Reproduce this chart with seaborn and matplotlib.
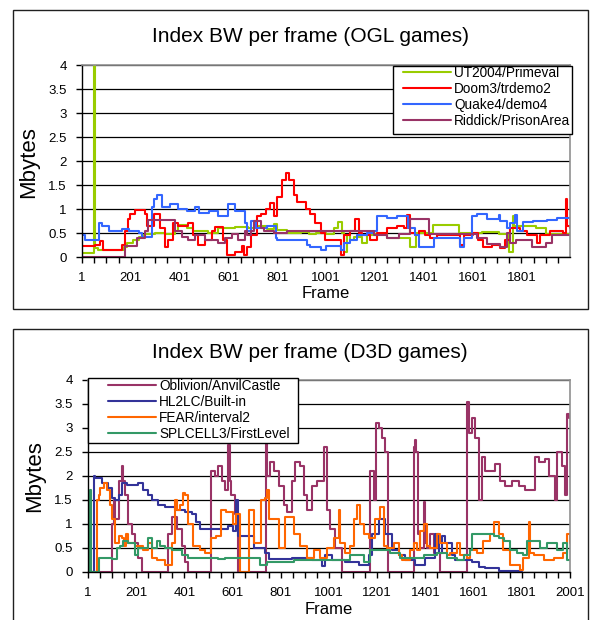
import numpy as np
import pandas as pd
import matplotlib
matplotlib.use("Agg")
import matplotlib.pyplot as plt
import seaborn as sns
from matplotlib.patches import Rectangle
from matplotlib.lines import Line2D

sns.set_theme(style="white")
plt.rcParams["font.family"] = ["Liberation Sans", "DejaVu Sans"]
plt.rcParams["text.color"] = "black"
plt.rcParams["xtick.color"] = "black"
plt.rcParams["ytick.color"] = "black"
plt.rcParams["axes.labelcolor"] = "black"

# ---------------- data (step breakpoints) ----------------
ogl_names = ["UT2004/Primeval", "Doom3/trdemo2", "Quake4/demo4", "Riddick/PrisonArea"]
ogl_colors = ["#99CC00", "#FF0000", "#3366FF", "#993366"]

ut_frames = [1, 51, 53, 68, 171, 185, 210, 235, 250, 260, 300, 340, 382, 396, 430, 457, 519, 559, 628, 682,
             720, 760, 787, 800, 842, 900, 930, 960, 1000, 1032, 1050, 1065, 1073, 1087, 1100, 1114, 1150,
             1170, 1196, 1250, 1301, 1346, 1370, 1437, 1546, 1640, 1710, 1750, 1768, 1772, 1860, 1900, 2000]
ut_vals = [0.09, 4.0, 0.19, 0.15, 0.2, 0.3, 0.35, 0.42, 0.45, 0.48, 0.5, 0.47, 0.55, 0.66, 0.6, 0.55, 0.5, 0.6, 0.62, 0.6,
           0.65, 0.58, 0.68, 0.56, 0.5, 0.52, 0.47, 0.5, 0.48, 0.6, 0.72, 0.5, 0.1, 0.45, 0.35, 0.42, 0.3,
           0.45, 0.48, 0.4, 0.4, 0.2, 0.5, 0.67, 0.5, 0.52, 0.48, 0.1, 0.85, 0.65, 0.6, 0.48, 0.5]

doom_frames = [1, 55, 75, 89, 164, 178, 191, 198, 218, 260, 269, 295, 321, 341, 355, 375, 396, 437, 457, 478,
               505, 532, 546, 580, 594, 628, 655, 665, 678, 692, 719, 733, 753, 770, 787, 801, 821, 835, 848,
               869, 883, 917, 937, 957, 978, 998, 1060, 1073, 1100, 1121, 1134, 1148, 1182, 1209, 1250, 1291,
               1320, 1332, 1346, 1366, 1380, 1407, 1427, 1455, 1550, 1564, 1604, 1625, 1645, 1679, 1713, 1734,
               1755, 1796, 1823, 1864, 1877, 1918, 1972, 1982, 1986, 2000]
doom_vals = [0.22, 0.25, 0.33, 0.15, 0.25, 0.55, 0.8, 0.9, 0.98, 0.9, 0.65, 0.9, 0.6, 0.2, 0.35, 0.7, 0.65, 0.7, 0.45, 0.25,
             0.35, 0.55, 0.62, 0.35, 0.05, 0.1, 0.22, 0.05, 0.2, 0.45, 0.85, 0.9, 1.0, 1.12, 0.85, 1.25, 1.6, 1.75, 1.6,
             1.3, 1.15, 1.0, 0.9, 0.7, 0.5, 0.35, 0.05, 0.45, 0.55, 0.8, 0.5, 0.45, 0.35, 0.5, 0.6, 0.65,
             0.6, 0.87, 0.5, 0.45, 0.55, 0.45, 0.4, 0.45, 0.25, 0.45, 0.5, 0.35, 0.2, 0.25, 0.18, 0.35,
             0.6, 0.55, 0.45, 0.3, 0.45, 0.55, 0.5, 1.2, 0.65, 0.6]

quake_frames = [1, 15, 69, 83, 110, 164, 192, 233, 246, 287, 294, 310, 328, 360, 396, 430, 464, 480, 520, 559,
                600, 628, 668, 678, 692, 712, 760, 794, 801, 923, 937, 978, 1000, 1060, 1073, 1100, 1128, 1168,
                1196, 1209, 1250, 1290, 1336, 1366, 1380, 1441, 1550, 1564, 1598, 1620, 1660, 1710, 1713, 1740,
                1755, 1774, 1781, 1808, 1850, 1905, 1945, 2000]
quake_vals = [0.45, 0.35, 0.7, 0.65, 0.55, 0.58, 0.55, 0.5, 0.42, 1.05, 1.2, 1.3, 1.05, 1.1, 1.0, 0.95, 1.05, 0.92, 0.95, 0.85,
              1.1, 0.95, 0.7, 0.55, 0.75, 0.6, 0.65, 0.4, 0.35, 0.25, 0.2, 0.15, 0.22, 0.15, 0.3, 0.35, 0.45, 0.5,
              0.55, 0.85, 0.82, 0.85, 0.6, 0.45, 0.2, 0.4, 0.2, 0.4, 0.85, 0.9, 0.8, 0.88, 0.75, 0.6,
              0.7, 0.87, 0.55, 0.72, 0.75, 0.78, 0.82, 0.8]

rid_frames = [1, 178, 226, 260, 273, 382, 409, 437, 464, 505, 559, 587, 614, 641, 668, 678, 692, 705, 733, 746,
              787, 842, 1196, 1250, 1301, 1346, 1421, 1618, 1659, 1713, 1740, 1755, 1777, 1846, 1900, 1927, 2000]
rid_vals = [0.0, 0.22, 0.4, 0.55, 0.77, 0.55, 0.42, 0.35, 0.45, 0.35, 0.3, 0.4, 0.48, 0.35, 0.55, 0.45, 0.55, 0.75, 0.6, 0.55,
            0.5, 0.55, 0.45, 0.4, 0.48, 0.8, 0.48, 0.4, 0.28, 0.2, 0.5, 0.3, 0.35, 0.2, 0.3, 0.45, 0.45]

d3d_names = ["Oblivion/AnvilCastle", "HL2LC/Built-in", "FEAR/interval2", "SPLCELL3/FirstLevel"]
d3d_colors = ["#993366", "#333399", "#FF6600", "#339966"]

obl_frames = [1, 100, 107, 114, 128, 141, 148, 155, 169, 183, 197, 210, 224, 334, 348, 369, 389, 403, 417, 513,
              527, 540, 555, 568, 582, 590, 596, 610, 623, 737, 740, 745, 758, 771, 792, 813, 827, 847, 861,
              882, 896, 910, 930, 951, 979, 993, 1006, 1027, 1055, 1172, 1186, 1196, 1207, 1221, 1235, 1246,
              1352, 1359, 1363, 1370, 1380, 1394, 1401, 1408, 1420, 1435, 1463, 1574, 1580, 1594, 1608, 1622,
              1636, 1650, 1691, 1712, 1732, 1760, 1788, 1815, 1857, 1871, 1898, 1912, 1940, 1947, 1968, 1981,
              1988, 1995, 2001]
obl_vals = [0.0, 1.0, 1.5, 1.1, 1.9, 2.2, 1.9, 1.6, 1.0, 0.8, 0.6, 0.3, 0.0, 0.8, 1.15, 0.9, 0.55, 0.2, 0.0, 2.1,
            2.0, 2.2, 1.9, 1.7, 2.65, 1.9, 1.6, 1.2, 0.0, 0.0, 2.7, 2.0, 2.3, 2.1, 1.8, 1.4, 1.25, 1.9, 2.3,
            2.2, 1.6, 1.3, 1.8, 1.9, 2.6, 1.3, 0.9, 0.5, 0.0, 2.1, 1.5, 3.1, 3.0, 2.8, 2.5, 0.0,
            2.6, 2.75, 2.5, 0.8, 0.5, 1.45, 0.6, 0.5, 0.8, 0.4, 0.0, 3.55, 2.9, 3.2, 2.8, 1.5,
            2.4, 2.1, 2.25, 1.9, 1.8, 1.9, 1.8, 1.7, 2.4, 2.3, 2.35, 2.0, 1.5, 2.5, 2.2, 1.6,
            3.3, 3.2, 3.2]

hl2_frames = [1, 25, 31, 59, 86, 100, 113, 128, 141, 162, 210, 231, 252, 265, 293, 320, 362, 403, 431, 451,
              465, 582, 603, 617, 623, 688, 737, 750, 847, 930, 972, 986, 1013, 1069, 1124, 1165, 1179, 1207,
              1235, 1262, 1290, 1318, 1359, 1401, 1442, 1456, 1470, 1484, 1511, 1525, 1594, 1622, 1650, 1705,
              1801]
hl2_vals = [0.0, 2.0, 1.95, 1.85, 1.75, 1.55, 1.5, 1.6, 1.85, 1.82, 1.85, 1.7, 1.6, 1.5, 1.4, 1.35, 1.3, 1.25, 1.2, 1.05,
            0.9, 0.95, 0.85, 1.5, 0.75, 0.5, 0.4, 0.28, 0.3, 0.25, 0.12, 0.35, 0.25, 0.2, 0.15, 0.35, 0.8, 1.1,
            0.8, 0.45, 0.35, 0.25, 0.15, 0.3, 0.8, 0.4, 0.75, 0.6, 0.35, 0.25, 0.2, 0.1, 0.08, 0.03,
            0.03]

fear_frames = [1, 38, 45, 52, 66, 79, 93, 100, 114, 128, 141, 150, 158, 169, 197, 231, 252, 265, 286, 320,
               348, 362, 372, 382, 395, 403, 417, 438, 465, 486, 513, 534, 554, 575, 603, 617, 630, 668, 688,
               720, 735, 744, 752, 792, 820, 854, 882, 910, 937, 965, 993, 1020, 1041, 1048, 1069, 1090, 1103,
               1117, 1131, 1145, 1166, 1193, 1214, 1228, 1242, 1269, 1290, 1304, 1338, 1352, 1366, 1380, 1394,
               1408, 1421, 1449, 1463, 1490, 1504, 1532, 1546, 1573, 1587, 1615, 1642, 1670, 1684, 1705, 1725,
               1753, 1794, 1808, 1829, 1836, 1850, 1892, 1933, 1974, 1988, 2001]
fear_vals = [0.0, 1.5, 1.6, 1.75, 1.85, 1.7, 1.4, 1.1, 0.6, 0.75, 0.7, 0.55, 0.8, 0.6, 0.55, 0.45, 0.6, 0.3, 0.25, 0.15,
             0.6, 1.5, 1.3, 1.4, 1.65, 1.6, 1.0, 0.55, 0.45, 0.4, 0.7, 0.75, 1.3, 1.25, 1.0, 1.2, 0.0, 1.3, 0.6,
             1.5, 1.55, 1.7, 1.1, 0.5, 1.15, 0.8, 0.55, 0.3, 0.45, 0.3, 0.5, 0.7, 1.3, 0.6, 0.4, 0.55, 1.1,
             1.4, 1.0, 0.8, 0.7, 1.1, 1.35, 0.55, 0.5, 0.6, 0.35, 0.25, 0.45, 0.6, 0.45, 0.85, 1.0,
             0.55, 0.5, 0.8, 0.6, 0.35, 0.4, 0.6, 0.35, 0.3, 0.45, 0.4, 0.65, 0.8, 1.05, 0.8, 0.45,
             0.15, 0.05, 0.3, 1.05, 0.4, 0.35, 0.25, 0.3, 0.4, 0.8, 0.6]

spl_frames = [1, 10, 14, 45, 100, 121, 135, 148, 169, 197, 210, 252, 265, 286, 300, 320, 348, 389, 417, 541,
              568, 716, 744, 854, 1089, 1145, 1172, 1255, 1297, 1394, 1449, 1490, 1532, 1560, 1587, 1594, 1684,
              1705, 1726, 1753, 1781, 1808, 1822, 1878, 1905, 1947, 1974, 1988, 2001]
spl_vals = [0.0, 1.7, 0.0, 0.3, 0.28, 0.5, 0.55, 0.65, 0.6, 0.35, 0.5, 0.7, 0.5, 0.65, 0.55, 0.5, 0.45, 0.35, 0.3, 0.28,
            0.3, 0.15, 0.2, 0.25, 0.35, 0.2, 0.45, 0.4, 0.3, 0.35, 0.4, 0.3, 0.25, 0.35, 0.45, 0.8, 0.75,
            0.7, 0.65, 0.45, 0.4, 0.35, 0.65, 0.5, 0.6, 0.45, 0.6, 0.25, 0.25]

y_ticks = [0, 0.5, 1, 1.5, 2, 2.5, 3, 3.5, 4]
y_labels = ["0", "0.5", "1", "1.5", "2", "2.5", "3", "3.5", "4"]

# ---------------- figure ----------------
W, H = 592, 620
fig = plt.figure(figsize=(W / 100, H / 100), dpi=100)
fig.patch.set_facecolor("white")


def fig_rect(x0, y0, x1, y1):
    return [x0 / W, 1 - y1 / H, (x1 - x0) / W, (y1 - y0) / H]


for (x0, y0, x1, y1) in [(13, 10, 588, 309), (13, 329, 588, 660)]:
    r = fig_rect(x0, y0, x1, y1)
    fig.patches.append(Rectangle((r[0], r[1]), r[2], r[3], transform=fig.transFigure,
                                 fill=False, edgecolor="#202020", lw=1.0))


def make_df(names, frames_list, vals_list):
    parts = []
    for n, f, v in zip(names, frames_list, vals_list):
        parts.append(pd.DataFrame({"frame": f, "value": v, "series": n}))
    return pd.concat(parts, ignore_index=True)


def style_axes(ax, nmax, label_max):
    ax.set_ylim(0, 4)
    ax.set_xlim(1, nmax)
    ax.set_yticks(y_ticks)
    ax.set_yticklabels(y_labels)
    ticks = list(range(1, nmax + 1, 50))
    ax.set_xticks(ticks)
    ax.set_xticklabels([str(t) if (t - 1) % 200 == 0 and t <= label_max else "" for t in ticks])
    ax.yaxis.grid(True, color="black", lw=0.9)
    ax.xaxis.grid(False)
    for s in ["top", "right"]:
        ax.spines[s].set_color("#909090")
        ax.spines[s].set_linewidth(1.2)
    for s in ["left", "bottom"]:
        ax.spines[s].set_color("black")
        ax.spines[s].set_linewidth(1.0)
    ax.tick_params(axis="both", direction="out", length=4, width=1, color="black",
                   labelsize=9.5, left=True, bottom=True, labelcolor="black")
    ax.tick_params(axis="x", pad=7)
    ax.tick_params(axis="y", pad=7)
    ax.set_xlabel("")
    ax.set_ylabel("")
    ax.set_facecolor("white")


def add_legend(ax, colors, names, box, anchor):
    x0, y0, x1, y1 = box
    r = fig_rect(x0, y0, x1, y1)
    ax.add_patch(Rectangle((r[0], r[1]), r[2], r[3], transform=fig.transFigure, clip_on=False,
                           facecolor="white", edgecolor="black", lw=1.0, zorder=5))
    handles = [Line2D([], [], color=c, lw=1.5) for c in colors]
    leg = ax.legend(handles, names, loc="upper left", bbox_to_anchor=(anchor[0] / W, 1 - anchor[1] / H),
                    bbox_transform=fig.transFigure, frameon=False, fontsize=9.8,
                    handlelength=3.5, handletextpad=0.25, labelspacing=0.15, borderpad=0,
                    borderaxespad=0)
    leg.set_zorder(6)
    return leg


# ---- top chart
ax1 = fig.add_axes(fig_rect(82, 65, 570, 257))
df1 = make_df(ogl_names, [ut_frames, doom_frames, quake_frames, rid_frames],
              [ut_vals, doom_vals, quake_vals, rid_vals])
sns.lineplot(data=df1, x="frame", y="value", hue="series", palette=dict(zip(ogl_names, ogl_colors)),
             hue_order=ogl_names, estimator=None, drawstyle="steps-post", lw=1.5, ax=ax1, legend=False)
style_axes(ax1, 2000, 1801)
add_legend(ax1, ogl_colors, ogl_names, (393, 66, 572, 134), (403, 66))

fig.text(310 / W, 1 - 36 / H, "Index BW per frame (OGL games)", ha="center", va="center", fontsize=15)
fig.text(29 / W, 1 - 162 / H, "Mbytes", ha="center", va="center", rotation=90, fontsize=16)
fig.text(326 / W, 1 - 293 / H, "Frame", ha="center", va="center", fontsize=12)

# ---- bottom chart
ax2 = fig.add_axes(fig_rect(88, 380, 570, 572))
df2 = make_df(d3d_names, [obl_frames, hl2_frames, fear_frames, spl_frames],
              [obl_vals, hl2_vals, fear_vals, spl_vals])
sns.lineplot(data=df2, x="frame", y="value", hue="series", palette=dict(zip(d3d_names, d3d_colors)),
             hue_order=d3d_names, estimator=None, drawstyle="steps-post", lw=1.5, ax=ax2, legend=False)
style_axes(ax2, 2001, 2001)
add_legend(ax2, d3d_colors, d3d_names, (88, 378, 298, 443), (108, 379))

fig.text(310 / W, 1 - 353 / H, "Index BW per frame (D3D games)", ha="center", va="center", fontsize=15)
fig.text(35 / W, 1 - 476 / H, "Mbytes", ha="center", va="center", rotation=90, fontsize=16)
fig.text(329 / W, 1 - 610 / H, "Frame", ha="center", va="center", fontsize=12)

fig.savefig("out.png", dpi=100, facecolor="white")
